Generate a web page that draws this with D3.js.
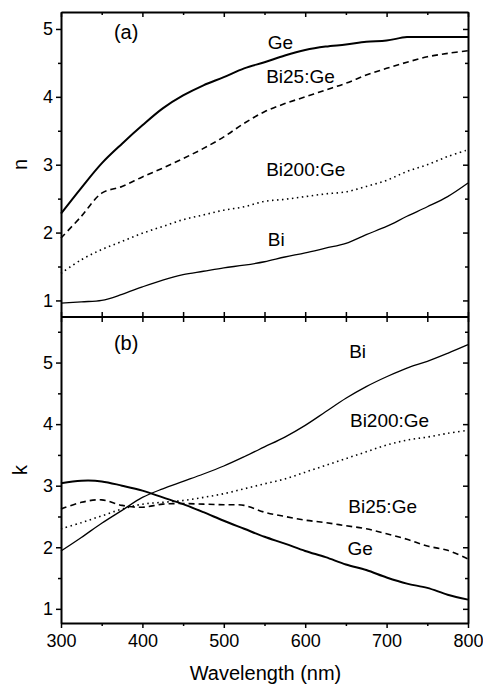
<!DOCTYPE html>
<html>
<head>
<meta charset="utf-8">
<script src="https://cdn.jsdelivr.net/npm/d3@7"></script>
<style>
  body { margin: 0; background: #fff; }
  svg { display: block; font-family: "Liberation Sans", Arial, sans-serif; }
  .axis path, .axis line { stroke: #000; }
  .curve { fill: none; stroke: #000; }
</style>
</head>
<body>
<svg id="chart" width="483" height="685"></svg>
<script>
// wavelengths (nm)
var wavelength = [300, 325, 350, 375, 400, 425, 450, 475, 500, 525, 550, 575, 600, 625, 650, 675, 700, 725, 750, 775, 800];

// panel (a) : refractive index n
var nGe      = [2.28, 2.66, 3.02, 3.31, 3.58, 3.83, 4.02, 4.17, 4.29, 4.42, 4.51, 4.61, 4.69, 4.74, 4.77, 4.81, 4.83, 4.88, 4.88, 4.88, 4.88];
var nBi25Ge  = [1.92, 2.24, 2.58, 2.68, 2.82, 2.95, 3.09, 3.24, 3.41, 3.61, 3.78, 3.90, 4.00, 4.10, 4.20, 4.32, 4.42, 4.51, 4.59, 4.64, 4.68];
var nBi200Ge = [1.40, 1.60, 1.75, 1.87, 1.99, 2.09, 2.19, 2.26, 2.33, 2.38, 2.46, 2.49, 2.53, 2.57, 2.60, 2.68, 2.77, 2.90, 3.00, 3.12, 3.22];
var nBi      = [0.96, 0.98, 1.00, 1.09, 1.20, 1.30, 1.38, 1.43, 1.48, 1.52, 1.57, 1.64, 1.70, 1.77, 1.84, 1.97, 2.09, 2.24, 2.38, 2.53, 2.73];

// panel (b) : extinction coefficient k
var kGe      = [3.04, 3.08, 3.07, 3.00, 2.92, 2.81, 2.70, 2.57, 2.43, 2.30, 2.17, 2.06, 1.94, 1.84, 1.72, 1.63, 1.51, 1.41, 1.34, 1.23, 1.15];
var kBi25Ge  = [2.62, 2.73, 2.77, 2.68, 2.65, 2.70, 2.71, 2.70, 2.69, 2.68, 2.57, 2.50, 2.44, 2.40, 2.35, 2.30, 2.22, 2.13, 2.02, 1.95, 1.81];
var kBi200Ge = [2.30, 2.40, 2.51, 2.62, 2.70, 2.73, 2.76, 2.81, 2.87, 2.95, 3.03, 3.11, 3.22, 3.33, 3.44, 3.55, 3.66, 3.74, 3.79, 3.85, 3.90];
var kBi      = [1.94, 2.16, 2.39, 2.60, 2.81, 2.95, 3.07, 3.19, 3.32, 3.47, 3.63, 3.79, 3.98, 4.20, 4.42, 4.61, 4.77, 4.91, 5.02, 5.15, 5.29];

var xTicks = [300, 400, 500, 600, 700, 800];
var yTicks = [1, 2, 3, 4, 5];

var svg = d3.select("#chart");
var pLeft = 61, pRight = 468, pTop = 12, pMid = 317, pBottom = 623;

var x = d3.scaleLinear().domain([300, 800]).range([pLeft, pRight]);
var yA = d3.scaleLinear().domain([0.756, 5.25]).range([pMid, pTop]);
var yB = d3.scaleLinear().domain([0.77, 5.74]).range([pBottom, pMid]);

// un panneau = courbes + cadre gauche/droite + textes
function panel(y, series, labels, tag, tagY, yTitle) {
    var line = function (vals) {
        return d3.line()
            .x(function (d, i) { return x(wavelength[i]); })
            .y(function (d) { return y(d); })
            .curve(d3.curveCatmullRom)(vals);
    };

    series.forEach(function (s) {
        svg.append("path")
            .attr("class", "curve")
            .attr("d", line(s.values))
            .attr("stroke-width", s.width)
            .attr("stroke-dasharray", s.dash);
    });

    var r0 = y.range()[0], r1 = y.range()[1];
    var yMinor = d3.range(0.5, 6, 1).filter(function (v) { return v > y.domain()[0] && v < y.domain()[1]; });

    // gauche : ticks vers l'extérieur
    svg.append("g").attr("class", "axis")
        .attr("transform", "translate(" + pLeft + ",0)")
        .call(d3.axisLeft(y).tickValues(yTicks).tickSize(5).tickSizeOuter(0).tickPadding(3).tickFormat(d3.format("d")))
        .call(function (g) { g.selectAll("text").attr("font-size", 18).attr("font-family", "Liberation Sans"); });
    svg.append("g").attr("class", "axis")
        .attr("transform", "translate(" + pLeft + ",0)")
        .call(d3.axisLeft(y).tickValues(yMinor).tickSize(3).tickFormat(""))
        .select(".domain").remove();

    // droite : ticks vers l'intérieur
    svg.append("g").attr("class", "axis")
        .attr("transform", "translate(" + pRight + ",0)")
        .call(d3.axisLeft(y).tickValues(yTicks).tickSize(5).tickSizeOuter(0).tickFormat(""));
    svg.append("g").attr("class", "axis")
        .attr("transform", "translate(" + pRight + ",0)")
        .call(d3.axisLeft(y).tickValues(yMinor).tickSize(3).tickFormat(""))
        .select(".domain").remove();

    labels.forEach(function (l) {
        svg.append("text")
            .attr("x", x(l.at[0]))
            .attr("y", y(l.at[1]))
            .attr("font-size", 19)
            .text(l.text);
    });

    svg.append("text")
        .attr("x", x(380))
        .attr("y", tagY)
        .attr("text-anchor", "middle")
        .attr("font-size", 20)
        .text(tag);

    svg.append("text")
        .attr("transform", "translate(27," + ((r0 + r1) / 2) + ") rotate(-90)")
        .attr("text-anchor", "middle")
        .attr("font-size", 20)
        .text(yTitle);
}

panel(yA, [
    { values: nGe, width: 2, dash: null },
    { values: nBi25Ge, width: 1.6, dash: "6,4" },
    { values: nBi200Ge, width: 1.6, dash: "1.5,3.5" },
    { values: nBi, width: 1.3, dash: null }
], [
    { text: "Ge", at: [554, 4.71] },
    { text: "Bi25:Ge", at: [552, 4.20] },
    { text: "Bi200:Ge", at: [552, 2.84] },
    { text: "Bi", at: [554, 1.80] }
], "(a)", 39, "n");

panel(yB, [
    { values: kGe, width: 2, dash: null },
    { values: kBi25Ge, width: 1.6, dash: "6,4" },
    { values: kBi200Ge, width: 1.6, dash: "1.5,3.5" },
    { values: kBi, width: 1.3, dash: null }
], [
    { text: "Bi", at: [654, 5.07] },
    { text: "Bi200:Ge", at: [655, 3.95] },
    { text: "Bi25:Ge", at: [653, 2.55] },
    { text: "Ge", at: [652, 1.88] }
], "(b)", 350, "k");

// axes des x : haut (vers l'intérieur), milieu (croisés), bas (vers l'extérieur)
var xMinor = [350, 450, 550, 650, 750];

svg.append("g").attr("class", "axis")
    .attr("transform", "translate(0," + pTop + ")")
    .call(d3.axisBottom(x).tickValues(xTicks).tickSize(5).tickSizeOuter(0).tickFormat(""));
svg.append("g").attr("class", "axis")
    .attr("transform", "translate(0," + pTop + ")")
    .call(d3.axisBottom(x).tickValues(xMinor).tickSize(3).tickFormat(""))
    .select(".domain").remove();

svg.append("g").attr("class", "axis")
    .attr("transform", "translate(0," + (pMid + 5) + ")")
    .call(d3.axisTop(x).tickValues(xTicks.concat(xMinor)).tickSize(10).tickSizeOuter(0).tickFormat(""))
    .select(".domain").remove();
svg.append("line")
    .attr("x1", pLeft).attr("x2", pRight)
    .attr("y1", pMid).attr("y2", pMid)
    .attr("stroke", "#000").attr("stroke-width", 2);

svg.append("g").attr("class", "axis")
    .attr("transform", "translate(0," + pBottom + ")")
    .call(d3.axisBottom(x).tickValues(xTicks).tickSize(5).tickSizeOuter(0).tickPadding(6))
    .call(function (g) { g.selectAll("text").attr("font-size", 18).attr("font-family", "Liberation Sans"); });
svg.append("g").attr("class", "axis")
    .attr("transform", "translate(0," + pBottom + ")")
    .call(d3.axisBottom(x).tickValues(xMinor).tickSize(3).tickFormat(""))
    .select(".domain").remove();

// épaissir le cadre
svg.selectAll(".axis .domain").attr("stroke-width", 2);
svg.selectAll(".axis line").attr("stroke-width", 1.5);

svg.append("text")
    .attr("x", (pLeft + pRight) / 2 + 1)
    .attr("y", 680)
    .attr("text-anchor", "middle")
    .attr("font-size", 20)
    .text("Wavelength (nm)");
</script>
</body>
</html>
